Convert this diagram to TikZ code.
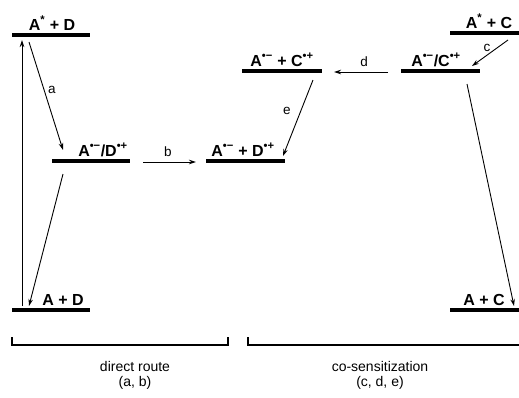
\documentclass[tikz,border=0pt]{standalone}
\usepackage{fontspec}
\setmainfont{Liberation Sans}
\usetikzlibrary{arrows.meta}

% energy level: bar from x1 to x2 at height y, bold label set on top of it
% #1 name, #2 x1, #3 x2, #4 y, #5 label centre x, #6 label
\newcommand\energylevel[6]{%
  \draw[levelline] (#2,#4) -- (#3,#4);
  \node[leveltext] (#1) at (#5,#4-5) {#6};
}
\newcommand\rad[1]{\textsuperscript{#1}}

\begin{document}
\begin{tikzpicture}[x=1pt,y=-1pt,
  levelline/.style={line width=3.2pt},
  leveltext/.style={anchor=base,inner sep=0pt,font=\fontsize{16}{18}\selectfont\bfseries},
  transfer/.style={line width=0.9pt,-{Stealth[length=7pt,width=4.5pt]}},
  steplabel/.style={inner sep=0pt,font=\fontsize{13.5}{15}\selectfont},
  bracket/.style={line width=1.2pt},
  routetext/.style={align=center,inner sep=0pt,font=\fontsize{14}{15}\selectfont}]
\useasboundingbox (0,0) rectangle (519,397);

% levels
\energylevel{AsD}{12}{90}{35}{52}{A\rad{*} + D}
\energylevel{AD}{52}{130}{161}{103}{A\rad{•−}/D\rad{•+}}
\energylevel{ApD}{206}{285}{161}{243}{A\rad{•−} + D\rad{•+}}
\energylevel{ApC}{242}{322}{71}{282}{A\rad{•−} + C\rad{•+}}
\energylevel{AC}{401}{480}{71}{436}{A\rad{•−}/C\rad{•+}}
\energylevel{AsC}{450}{519}{33}{489}{A\rad{*} + C}
\energylevel{ground}{12}{90}{310}{63}{A + D}
\energylevel{groundC}{450}{519}{310}{484}{A + C}

% arrow end points
\coordinate (v0) at (22,306);  \coordinate (v1) at (22,40);
\coordinate (a0) at (29,42);   \coordinate (a1) at (63,150);
\coordinate (r0) at (63,174);  \coordinate (r1) at (29,306);
\coordinate (b0) at (143,162); \coordinate (b1) at (196,162);
\coordinate (e0) at (313,80);  \coordinate (e1) at (283,156);
\coordinate (d0) at (388,72);  \coordinate (d1) at (334,72);
\coordinate (c0) at (508,40);  \coordinate (c1) at (472,66);
\coordinate (s0) at (467,84);  \coordinate (s1) at (514,306);

% transitions
\draw[transfer] (v0) -- (v1);
\draw[transfer] (a0) -- (a1);
\draw[transfer] (r0) -- (r1);
\draw[transfer] (b0) -- (b1);
\draw[transfer] (e0) -- (e1);
\draw[transfer] (d0) -- (d1);
\draw[transfer] (c0) -- (c1);
\draw[transfer] (s0) -- (s1);

% step labels
\node[steplabel] (la) at (52,90) {a};
\node[steplabel] (lb) at (168,152) {b};
\node[steplabel] (le) at (287,111) {e};
\node[steplabel] (ld) at (364,62) {d};
\node[steplabel] (lc) at (487,48) {c};

% route brackets
\draw[bracket] (12,337) -- (12,345) -- (228,345) -- (228,337);
\draw[bracket] (248,337) -- (248,345) -- (519,345);

\node[routetext] (direct) at (135,375) {direct route\\(a, b)};
\node[routetext] (cosens) at (380,375) {co-sensitization\\(c, d, e)};
\end{tikzpicture}
\end{document}
